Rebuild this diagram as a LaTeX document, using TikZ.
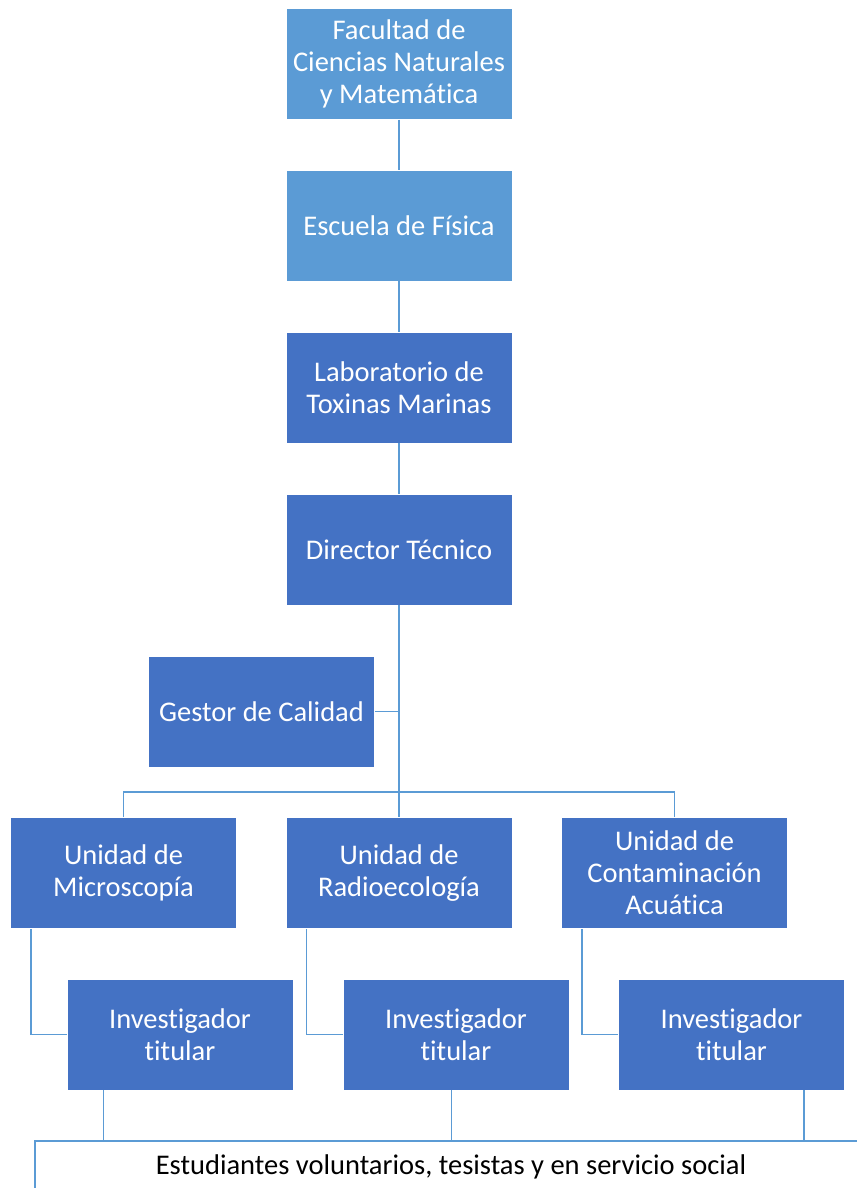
\documentclass[tikz,border=0pt]{standalone}
\usepackage{fontspec}
\setmainfont{Carlito}[Ligatures={NoCommon}]
\definecolor{lightblue}{HTML}{5B9BD5}
\definecolor{darkblue}{HTML}{4472C4}
\definecolor{linecol}{HTML}{5B9BD5}
\begin{document}
\begin{tikzpicture}[x=1pt,y=-1pt,
  orgbox/.style={fill=darkblue, draw=white, line width=0.6pt, minimum width=226pt, minimum height=111pt, inner sep=2pt, align=center, text=white, font=\fontsize{28.5}{32}\selectfont},
  topbox/.style={orgbox, fill=lightblue},
  conn/.style={draw=linecol, line width=1.5pt}]
\useasboundingbox (0,0) rectangle (857,1188);
\node[topbox] (fac) at (399,64) {Facultad de\\Ciencias Naturales\\y Matemática};
\node[topbox] (esc) at (399,225.5) {Escuela de Física};
\node[orgbox] (lab) at (399,387.5) {Laboratorio de\\Toxinas Marinas};
\node[orgbox] (dir) at (399,549.5) {Director Técnico};
\node[orgbox] (ges) at (261.5,711.5) {Gestor de Calidad};
\node[orgbox] (mic) at (123.5,873) {Unidad de\\Microscopía};
\node[orgbox] (rad) at (399,873) {Unidad de\\Radioecología};
\node[orgbox] (con) at (674.5,873) {Unidad de\\Contaminación\\Acuática};
\node[orgbox] (inv1) at (180,1034.5) {Investigador\\titular};
\node[orgbox] (inv2) at (456,1034.5) {Investigador\\titular};
\node[orgbox] (inv3) at (731.5,1034.5) {Investigador\\titular};
\node[font=\fontsize{28.5}{32}\selectfont, inner sep=0pt] (est) at (451,1167) {Estudiantes voluntarios, tesistas y en servicio social};
\coordinate (busy) at (0,792);
\coordinate (bary) at (0,1141);
% spine
\draw[conn] (fac.south) -- (esc.north);
\draw[conn] (esc.south) -- (lab.north);
\draw[conn] (lab.south) -- (dir.north);
\draw[conn] (dir.south) -- (rad.north);
\draw[conn] (ges.east) -- (ges.east -| dir.south);
\draw[conn] (mic.north) |- (busy -| dir.south);
\draw[conn] (con.north) |- (busy -| dir.south);
% units to investigators
\draw[conn] ([xshift=21pt]mic.south west) |- (inv1.west);
\draw[conn] ([xshift=21pt]rad.south west) |- (inv2.west);
\draw[conn] ([xshift=21pt]con.south west) |- (inv3.west);
% investigators to students
\draw[conn] ([xshift=37pt]inv1.south west) -- ([xshift=37pt]inv1.south west |- bary);
\draw[conn] ([xshift=109pt]inv2.south west) -- ([xshift=109pt]inv2.south west |- bary);
\draw[conn] ([xshift=186pt]inv3.south west) -- ([xshift=186pt]inv3.south west |- bary);
\coordinate (bl) at (35,1188);
\coordinate (br) at (857,1141);
\draw[conn] (bl) |- (br);
\end{tikzpicture}
\end{document}
